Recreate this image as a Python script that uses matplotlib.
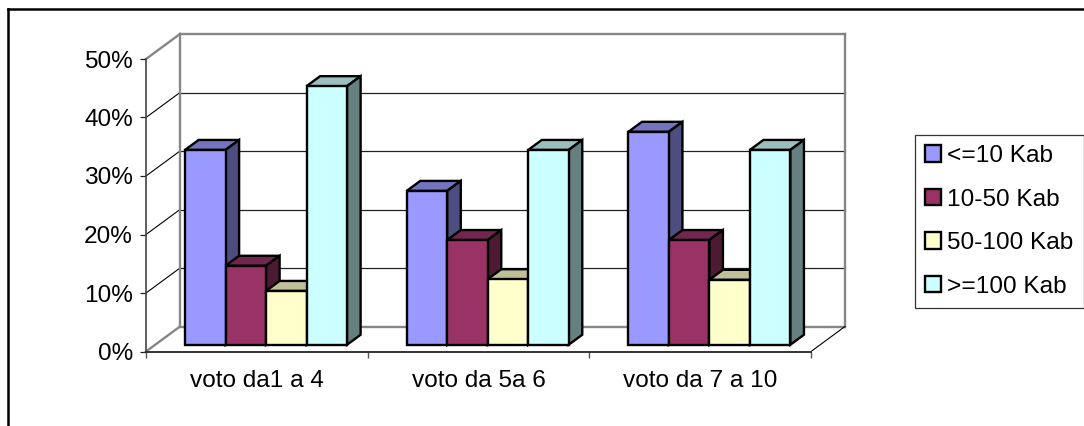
import matplotlib
matplotlib.use("Agg")
import matplotlib.pyplot as plt
from matplotlib.lines import Line2D
from matplotlib.patches import Patch, Polygon

plt.rcParams['font.family'] = ['Liberation Sans', 'DejaVu Sans']

categories = ["voto da1 a 4", "voto da 5a 6", "voto da 7 a 10"]
series_names = ["<=10 Kab", "10-50 Kab", "50-100 Kab", ">=100 Kab"]
small = [33.3, 26.3, 36.4]
medium = [13.5, 17.9, 17.9]
large = [9.2, 11.2, 11.1]
biggest = [44.2, 33.3, 33.3]
series = [small, medium, large, biggest]

front_colors = ["#9999FF", "#993366", "#FFFFCC", "#CCFFFF"]
top_colors = ["#7373BF", "#73264D", "#BFBF99", "#99BFBF"]
side_colors = ["#4D4D80", "#4D1A33", "#808066", "#668080"]

W, H = 1084, 426
fig = plt.figure(figsize=(W / 100, H / 100), dpi=100)
fig.patch.set_facecolor("white")

# plot area in pixels: x 146-811, y 59-351.5
ax = fig.add_axes([146 / W, 1 - 351.5 / H, 665 / W, 292.5 / H])
ax.set_xlim(0, 3)
ax.set_ylim(0, 50)
ax.patch.set_visible(False)

# depth of the box, in data units
depth_x = 34 / (665 / 3)
depth_y = 25 / (292.5 / 50)
# bars stand partway into the floor
bar_x = 0.27 * depth_x
bar_y = 0.27 * depth_y
bar_depth_x = 0.40 * depth_x
bar_depth_y = 0.40 * depth_y
bar_w = 40.5 / (665 / 3)
group_w = bar_w * 4

wall = "#868686"
# grid on back wall and left wall
for v in [10, 20, 30, 40]:
    ax.plot([0, depth_x], [v, v + depth_y], color="black", lw=0.8, clip_on=False, zorder=1)
    ax.plot([depth_x, 3 + depth_x], [v + depth_y, v + depth_y], color="#222222", lw=0.9, clip_on=False, zorder=1)
ax.plot([0, depth_x], [50, 50 + depth_y], color=wall, lw=1.7, clip_on=False, zorder=1)
ax.plot([0, depth_x], [0, depth_y], color=wall, lw=1.7, clip_on=False, zorder=1)
ax.plot([depth_x, depth_x], [depth_y, 50 + depth_y], color=wall, lw=1.7, clip_on=False, zorder=1)
ax.plot([depth_x, 3 + depth_x], [50 + depth_y, 50 + depth_y], color=wall, lw=1.7, clip_on=False, zorder=1)
ax.plot([3 + depth_x, 3 + depth_x], [depth_y, 50 + depth_y], color=wall, lw=1.7, clip_on=False, zorder=1)
ax.plot([depth_x, 3 + depth_x], [depth_y, depth_y], color=wall, lw=1.7, clip_on=False, zorder=1)
ax.plot([3, 3 + depth_x], [0, depth_y], color="black", lw=0.8, clip_on=False, zorder=1)

# bars, left to right so each front hides the side of the previous one
z = 3
for c in range(len(categories)):
    start = c + (1 - group_w) / 2 + bar_x
    for s, values in enumerate(series):
        x0 = start + s * bar_w
        x1 = x0 + bar_w
        y0 = bar_y
        y1 = bar_y + values[c]
        ln = dict(edgecolor="black", lw=1.7, joinstyle="miter", clip_on=False, zorder=z)
        ax.add_patch(Polygon([(x0, y1), (x1, y1), (x1 + bar_depth_x, y1 + bar_depth_y),
                              (x0 + bar_depth_x, y1 + bar_depth_y)], facecolor=top_colors[s], **ln))
        ax.add_patch(Polygon([(x1, y0), (x1 + bar_depth_x, y0 + bar_depth_y),
                              (x1 + bar_depth_x, y1 + bar_depth_y), (x1, y1)], facecolor=side_colors[s], **ln))
        ax.add_patch(Polygon([(x0, y0), (x1, y0), (x1, y1), (x0, y1)], facecolor=front_colors[s], **ln))
        z += 1

# axes
for name in ["top", "right"]:
    ax.spines[name].set_visible(False)
ax.spines["left"].set_color("#444444")
ax.spines["bottom"].set_color("#333333")
ax.spines["left"].set_linewidth(1.2)
ax.spines["bottom"].set_linewidth(1.4)
ax.spines["left"].set_zorder(2)
ax.spines["bottom"].set_zorder(2)

ax.set_yticks([0, 10, 20, 30, 40, 50])
ax.set_yticklabels(["0%", "10%", "20%", "30%", "40%", "50%"], fontsize=17.6)
ax.tick_params(axis="y", length=4, width=0.9, color="#222222", pad=5.5)
ax.set_xticks([0, 1, 2, 3])
ax.set_xticklabels([])
ax.tick_params(axis="x", which="major", length=4.5, width=1.0, color="#555555")
ax.set_xticks([0.5, 1.5, 2.5], minor=True)
ax.set_xticklabels(categories, minor=True, fontsize=17.6)
ax.tick_params(axis="x", which="minor", length=0, pad=13)

# legend
handles = [Patch(facecolor=front_colors[i], edgecolor="black", lw=1.7, label=series_names[i])
           for i in range(len(series_names))]
fig.legend(handles=handles, loc="upper left", bbox_to_anchor=(915 / W, 1 - 135 / H),
           fontsize=17.6, frameon=True, fancybox=False, framealpha=1, edgecolor="#333333",
           borderaxespad=0, borderpad=0.41, labelspacing=0.88, handlelength=0.66, handleheight=0.66,
           handletextpad=0.25).get_frame().set_linewidth(0.9)

# outer frame, cut off at the right and bottom of the picture
fig.add_artist(Line2D([8 / W, 1], [1 - 9 / H, 1 - 9 / H], color="black", lw=1.8, transform=fig.transFigure))
fig.add_artist(Line2D([8 / W, 8 / W], [0, 1 - 9 / H], color="black", lw=1.8, transform=fig.transFigure))

fig.savefig("out.png", dpi=100)
